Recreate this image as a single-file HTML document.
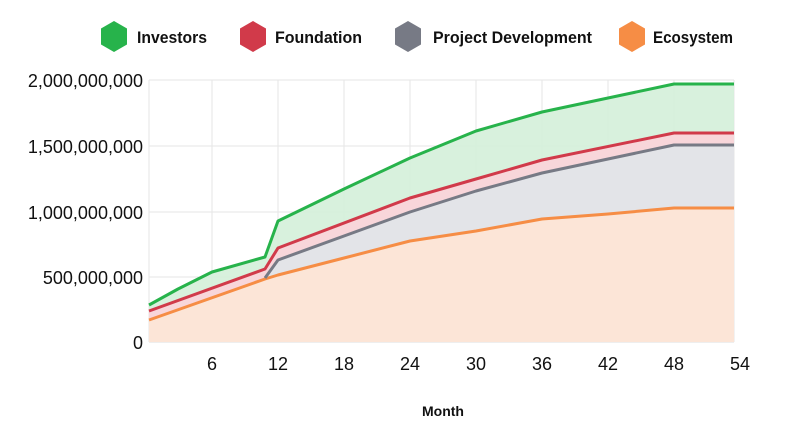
<!DOCTYPE html>
<html><head><meta charset="utf-8"><style>
body{margin:0;background:#fff;font-family:"Liberation Sans","DejaVu Sans",sans-serif}
</style></head><body>
<svg width="797" height="428" viewBox="0 0 797 428" xmlns="http://www.w3.org/2000/svg" font-family="Liberation Sans, DejaVu Sans, sans-serif">
<g stroke="#e6e6e6" stroke-width="1">
<line x1="149" y1="80" x2="734" y2="80"/><line x1="149" y1="146" x2="734" y2="146"/><line x1="149" y1="212" x2="734" y2="212"/><line x1="149" y1="277" x2="734" y2="277"/>
<line x1="212" y1="80" x2="212" y2="342"/><line x1="278" y1="80" x2="278" y2="342"/><line x1="344" y1="80" x2="344" y2="342"/><line x1="410" y1="80" x2="410" y2="342"/><line x1="476" y1="80" x2="476" y2="342"/><line x1="542" y1="80" x2="542" y2="342"/><line x1="608" y1="80" x2="608" y2="342"/><line x1="674" y1="80" x2="674" y2="342"/><line x1="734" y1="80" x2="734" y2="342"/>
<line x1="149" y1="80" x2="149" y2="342"/>
</g>
<line x1="149" y1="342" x2="734" y2="342" stroke="#ddd"/>
<polygon fill="#d4f0d9" fill-opacity="0.9" points="149,305 178,289 212,272 265,257 278,221 344,189 410,158 476,131 542,112 608,98 674,84 734,84 734,133 674,133 542,160 476,179 410,198 278,248 265,269 149,311"/>
<polygon fill="#f8d6da" points="149,311 265,269 278,248 410,198 476,179 542,160 674,133 734,133 734,145 674,145 542,173 476,191 410,212 278,260 265,278 149,320"/>
<polygon fill="#e3e4e8" points="265,278 278,260 410,212 476,191 542,173 674,145 734,145 734,208 674,208 542,219 476,231 410,241 278,275"/>
<polygon fill="#fce5d7" points="149,320 265,279 278,275 344,258 410,241 476,231 542,219 608,214 674,208 734,208 734,342 149,342"/>
<g fill="none" stroke-width="3" stroke-linejoin="round">
<polyline stroke="#f68d45" points="149,320 265,279 278,275 344,258 410,241 476,231 542,219 608,214 674,208 734,208"/>
<polyline stroke="#777a85" points="265,278 278,260 410,212 476,191 542,173 674,145 734,145"/>
<polyline stroke="#d13a4a" points="149,311 265,269 278,248 410,198 476,179 542,160 674,133 734,133"/>
<polyline stroke="#27b34b" points="149,305 178,289 212,272 265,257 278,221 344,189 410,158 476,131 542,112 608,98 674,84 734,84"/>
</g>
<g font-size="18" fill="#111" text-anchor="end">
<text x="143" y="87">2,000,000,000</text><text x="143" y="153">1,500,000,000</text><text x="143" y="219">1,000,000,000</text><text x="143" y="284">500,000,000</text><text x="143" y="349">0</text>
</g>
<g font-size="18" fill="#111" text-anchor="middle">
<text x="212" y="370">6</text><text x="278" y="370">12</text><text x="344" y="370">18</text><text x="410" y="370">24</text><text x="476" y="370">30</text><text x="542" y="370">36</text><text x="608" y="370">42</text><text x="674" y="370">48</text><text x="740" y="370">54</text>
</g>
<text x="443" y="416" font-size="14" font-weight="bold" text-anchor="middle" fill="#111">Month</text>
<g font-size="17" font-weight="bold" fill="#111">
<polygon fill="#27b34b" points="114,21 127,28.5 127,44.5 114,52 101,44.5 101,28.5"/><text x="137" y="43" textLength="70" lengthAdjust="spacingAndGlyphs">Investors</text>
<polygon fill="#d13a4a" points="253,21 266,28.5 266,44.5 253,52 240,44.5 240,28.5"/><text x="275" y="43" textLength="87" lengthAdjust="spacingAndGlyphs">Foundation</text>
<polygon fill="#777a85" points="408,21 421,28.5 421,44.5 408,52 395,44.5 395,28.5"/><text x="433" y="43" textLength="159" lengthAdjust="spacingAndGlyphs">Project Development</text>
<polygon fill="#f68d45" points="632,21 645,28.5 645,44.5 632,52 619,44.5 619,28.5"/><text x="653" y="43" textLength="80" lengthAdjust="spacingAndGlyphs">Ecosystem</text>
</g>
</svg>
</body></html>
